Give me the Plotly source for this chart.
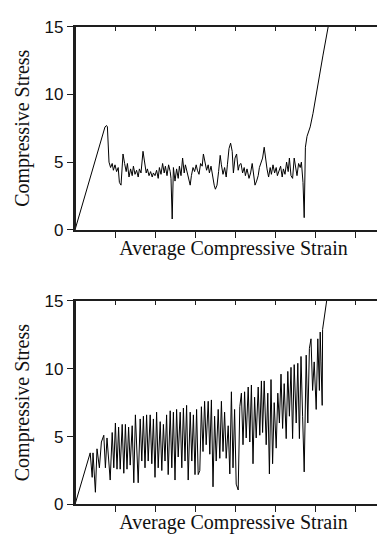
import plotly.graph_objects as go

# ---- Top panel data (strain, stress) ----
top_strain = [0.00, 0.75, 0.79, 0.81, 0.85, 0.89, 0.93, 0.96, 1.00, 1.04, 1.08, 1.11, 1.15,
              1.20, 1.24, 1.28, 1.31, 1.35, 1.39, 1.43, 1.46, 1.50, 1.54, 1.58, 1.61, 1.65,
              1.70, 1.74, 1.78, 1.81, 1.85, 1.89, 1.93, 1.96, 2.00, 2.04, 2.08, 2.11, 2.15,
              2.19, 2.23, 2.26, 2.30, 2.34, 2.38, 2.40, 2.43, 2.46, 2.50, 2.54, 2.58, 2.61,
              2.65, 2.69, 2.73, 2.76, 2.80, 2.84, 2.88, 2.91, 2.95, 2.99, 3.03, 3.06, 3.10,
              3.14, 3.18, 3.21, 3.25, 3.29, 3.33, 3.36, 3.40, 3.44, 3.48, 3.51, 3.55, 3.59,
              3.63, 3.66, 3.70, 3.74, 3.78, 3.81, 3.85, 3.89, 3.93, 3.96, 4.00, 4.04, 4.08,
              4.11, 4.15, 4.19, 4.23, 4.26, 4.30, 4.35, 4.39, 4.43, 4.46, 4.50, 4.54, 4.58,
              4.61, 4.65, 4.69, 4.73, 4.76, 4.80, 4.84, 4.88, 4.91, 4.95, 4.99, 5.03, 5.06,
              5.10, 5.14, 5.18, 5.21, 5.25, 5.29, 5.33, 5.36, 5.40, 5.44, 5.48, 5.51, 5.55,
              5.59, 5.63, 5.66, 5.70, 5.73, 5.76, 5.80, 5.88, 5.95, 6.08, 6.20, 6.33, 6.38]
top_stress = [0.0, 7.6, 7.7, 7.6, 5.0, 4.6, 4.9, 4.4, 4.8, 4.3, 4.6, 3.5, 3.3,
              5.6, 4.9, 4.3, 4.9, 3.9, 4.5, 4.0, 4.7, 4.1, 4.4, 3.9, 4.5, 4.2,
              5.8, 5.1, 4.2, 4.5, 4.0, 4.3, 3.9, 4.2, 4.0, 4.4, 3.8, 4.6, 4.1,
              4.9, 4.2, 4.7, 4.0, 4.8, 4.3, 3.8, 0.8, 4.6, 3.6, 4.5, 3.8, 4.7,
              4.0, 5.3, 4.2, 4.8, 4.3, 3.9, 3.3, 4.0, 4.6, 4.3, 4.8, 4.4, 4.1,
              4.9, 4.7, 5.6, 5.0, 4.4, 4.8, 4.2, 4.7, 3.9, 3.3, 3.0, 3.3, 4.3,
              5.5, 4.8, 4.1, 4.6, 3.9, 4.8, 6.0, 6.4, 5.8, 4.2, 5.3, 5.6, 4.4,
              4.8, 4.9, 4.2, 4.6, 4.0, 4.5, 3.8, 4.2, 4.9, 4.3, 3.3, 3.6, 4.0,
              4.6, 4.9, 5.3, 6.1, 5.2, 4.5, 3.9, 4.6, 4.1, 4.8, 4.2, 4.6, 4.0,
              4.3, 4.7, 3.9, 4.5, 4.1, 5.0, 4.3, 5.3, 4.0, 3.8, 5.3, 4.7, 4.0,
              4.9, 4.6, 5.0, 3.5, 0.9, 6.1, 6.9, 7.6, 8.6, 11.0, 12.9, 15.0, 15.8]

# ---- Bottom panel data (strain, stress) ----
bot_strain = [0.00, 0.38, 0.43, 0.45, 0.51, 0.55, 0.61, 0.66, 0.72, 0.76, 0.80, 0.84, 0.88,
              0.93, 0.97, 1.01, 1.05, 1.09, 1.13, 1.18, 1.22, 1.26, 1.30, 1.34, 1.38, 1.43,
              1.47, 1.51, 1.58, 1.63, 1.67, 1.71, 1.75, 1.79, 1.83, 1.88, 1.92, 1.96, 2.00,
              2.04, 2.08, 2.13, 2.17, 2.21, 2.25, 2.29, 2.33, 2.38, 2.42, 2.46, 2.50, 2.54,
              2.58, 2.63, 2.67, 2.71, 2.75, 2.79, 2.83, 2.88, 2.92, 2.96, 3.00, 3.04, 3.08,
              3.12, 3.16, 3.20, 3.24, 3.28, 3.33, 3.37, 3.41, 3.45, 3.49, 3.53, 3.58, 3.62,
              3.66, 3.70, 3.74, 3.78, 3.83, 3.87, 3.91, 3.95, 3.99, 4.03, 4.08, 4.12, 4.16,
              4.20, 4.24, 4.28, 4.33, 4.37, 4.41, 4.45, 4.49, 4.53, 4.58, 4.62, 4.66, 4.69,
              4.73, 4.78, 4.82, 4.86, 4.90, 4.94, 4.98, 5.03, 5.07, 5.11, 5.15, 5.19, 5.23,
              5.28, 5.32, 5.36, 5.40, 5.44, 5.48, 5.53, 5.57, 5.61, 5.65, 5.69, 5.73, 5.78,
              5.82, 5.86, 5.90, 5.94, 5.98, 6.03, 6.07, 6.11, 6.13, 6.15, 6.18, 6.19, 6.28,
              6.33]
bot_stress = [0.0, 3.8, 2.0, 3.8, 0.9, 4.1, 2.7, 4.6, 5.1, 2.7, 4.9, 3.0, 1.8,
              5.3, 2.7, 6.0, 2.6, 5.7, 2.6, 5.9, 2.3, 5.9, 2.6, 5.7, 2.9, 5.8,
              1.6, 6.6, 1.6, 6.3, 3.2, 6.5, 2.7, 6.6, 3.2, 6.6, 3.0, 6.3, 2.0,
              6.8, 2.7, 6.1, 2.5, 5.9, 3.2, 6.6, 2.2, 6.9, 2.7, 6.8, 1.8, 7.0,
              3.5, 6.8, 2.7, 7.1, 3.2, 7.3, 1.8, 6.8, 3.2, 6.6, 2.2, 7.0, 2.2,
              2.5, 7.2, 3.9, 7.6, 4.4, 7.6, 3.7, 7.7, 1.3, 6.5, 3.2, 7.0, 3.4,
              7.6, 3.9, 6.8, 3.4, 5.8, 2.25, 8.3, 2.7, 7.0, 1.5, 1.07, 7.2, 8.2,
              4.4, 8.3, 4.9, 8.65, 4.6, 8.8, 3.0, 7.9, 4.9, 8.65, 5.1, 9.1, 5.3,
              9.1, 4.4, 8.2, 2.25, 9.2, 3.0, 7.5, 4.15, 8.2, 6.0, 9.6, 5.6, 8.9,
              4.85, 9.8, 6.5, 10.1, 4.85, 10.3, 6.0, 10.4, 4.85, 10.9, 6.5, 2.4, 11.0,
              6.0, 11.5, 12.2, 8.4, 10.5, 7.0, 12.2, 8.4, 12.7, 10.5, 7.3, 12.9, 15.0,
              15.8]

y_ticks = [0, 5, 10, 15]
x_ticks = [1, 2, 3, 4, 5, 6, 7]
right_ticks = [5, 10]
x_title = "Average Compressive Strain"
y_title = "Compressive Stress"

W, H = 385, 548
ML, MR = 67, 1
AX = "#1e1e1e"
LW = 1.8
XR = [0, (W - ML - MR) / 40]
YR = [0, 15]
top_dom = [1 - 220.5 / H, 1 - 10 / H]
bot_dom = [1 - 505 / H, 1 - 294 / H]

fig = go.Figure()
fig.add_trace(go.Scatter(x=top_strain, y=top_stress, mode="lines",
                         line=dict(color="black", width=1), xaxis="x", yaxis="y",
                         showlegend=False, hoverinfo="skip"))
fig.add_trace(go.Scatter(x=bot_strain, y=bot_stress, mode="lines",
                         line=dict(color="black", width=1), xaxis="x3", yaxis="y3",
                         showlegend=False, hoverinfo="skip"))
# empty traces so that the frame axes (top / right) get drawn
for xr, yr in [("x2", "y2"), ("x4", "y4")]:
    fig.add_trace(go.Scatter(x=[], y=[], mode="lines", xaxis=xr, yaxis=yr,
                             showlegend=False, hoverinfo="skip"))

tickfont = dict(family="Liberation Sans, Arial, sans-serif", size=17, color="#111111")
titlefont = dict(family="Liberation Serif, Times New Roman, serif", size=20, color="#111111")


def xa(anchor, overlay=None, top=False):
    d = dict(range=XR, domain=[0, 1], anchor=anchor, showgrid=False, zeroline=False,
             showline=True, linecolor=AX, linewidth=LW, tickmode="array",
             tickvals=x_ticks, showticklabels=False, tickcolor=AX, tickwidth=1.3,
             ticks="inside" if top else "outside", ticklen=4 if top else 6)
    if top:
        d.update(side="top", overlaying=overlay)
    else:
        d.update(title=dict(text=x_title, font=titlefont, standoff=4))
    return d


def ya(dom, anchor, overlay=None, right=False):
    d = dict(range=YR, domain=dom, anchor=anchor, showgrid=False, zeroline=False,
             tickmode="array", tickcolor=AX, tickwidth=1.3)
    if right:
        d.update(side="right", overlaying=overlay, showline=False, tickvals=right_ticks,
                 ticks="inside", ticklen=5, showticklabels=False)
    else:
        d.update(showline=True, linecolor=AX, linewidth=LW + 0.4, tickvals=y_ticks,
                 ticks="outside", ticklen=6, tickfont=tickfont,
                 title=dict(text=y_title, font=titlefont, standoff=10))
    return d


fig.update_layout(
    width=W, height=H, margin=dict(l=ML, r=MR, t=0, b=0),
    paper_bgcolor="white", plot_bgcolor="white", showlegend=False,
    xaxis=xa("y"), xaxis2=xa("y", "x", True),
    xaxis3=xa("y3"), xaxis4=xa("y3", "x3", True),
    yaxis=ya(top_dom, "x"), yaxis2=ya(top_dom, "x", "y", True),
    yaxis3=ya(bot_dom, "x3"), yaxis4=ya(bot_dom, "x3", "y3", True),
)

# frame decorations: left spine and inward right-side ticks, tied to each axis
PW = W - ML - MR
for xr, yr in [("x", "y"), ("x3", "y3")]:
    fig.add_shape(type="line", xref=f"{xr} domain", yref=f"{yr} domain",
                  x0=0, x1=0, y0=0, y1=1, line=dict(color=AX, width=2), layer="above")
    for v in right_ticks:
        fig.add_shape(type="line", xref=f"{xr} domain", yref=yr,
                      x0=1 - 5 / PW, x1=1, y0=v, y1=v, line=dict(color=AX, width=1.5),
                      layer="above")

fig.write_html("out.html")
